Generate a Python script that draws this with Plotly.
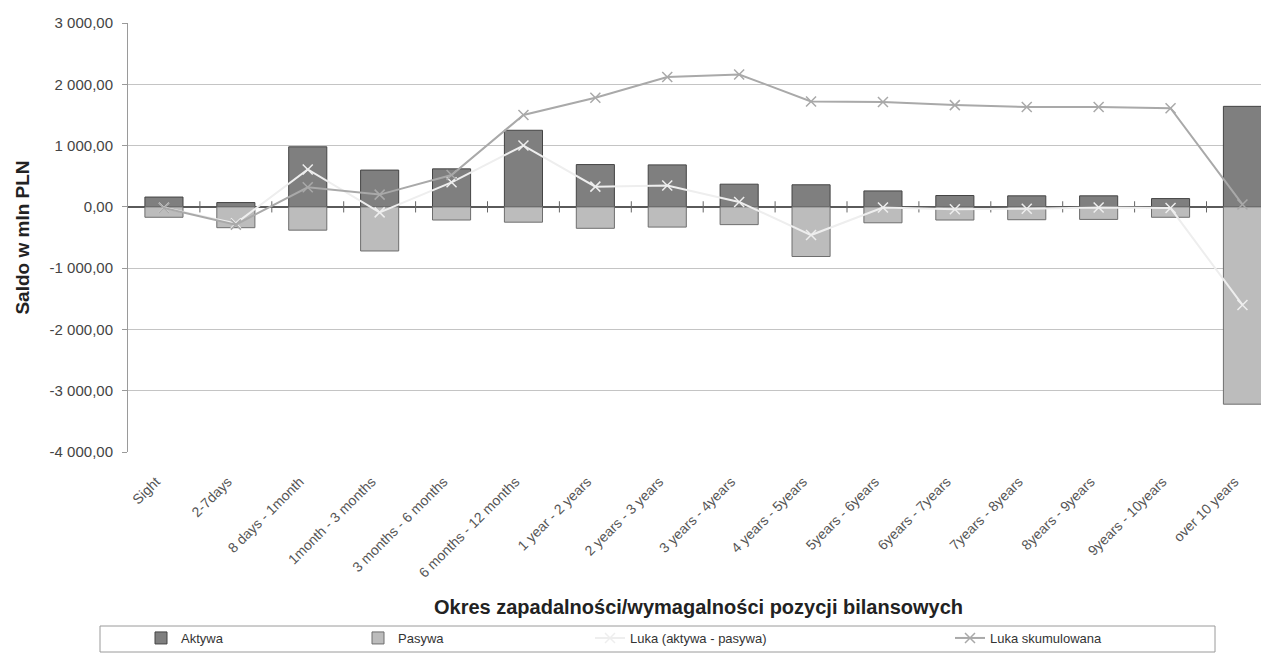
import plotly.graph_objects as go

categories = ["Sight", "2-7days", "8 days - 1month", "1month - 3 months",
              "3 months - 6 months", "6 months - 12 months", "1 year - 2 years",
              "2 years - 3 years", "3 years - 4years", "4 years - 5years",
              "5years - 6years", "6years - 7years", "7years - 8years",
              "8years - 9years", "9years - 10years", "over 10 years"]
aktywa = [160, 70, 980, 600, 620, 1250, 690, 685, 370, 360, 260, 185, 180, 180, 135, 1640]
pasywa = [-170, -340, -380, -720, -215, -250, -350, -330, -290, -810, -260, -215, -210, -205, -170, -3220]
luka = [-15, -270, 610, -90, 400, 1000, 330, 350, 80, -460, -10, -40, -30, -10, -20, -1600]
luka_skum = [-20, -290, 320, 200, 520, 1500, 1780, 2120, 2160, 1720, 1710, 1660, 1630, 1630, 1610, 40]
y_ticks = [-4000, -3000, -2000, -1000, 0, 1000, 2000, 3000]
y_labels = ["-4 000,00", "-3 000,00", "-2 000,00", "-1 000,00", "0,00",
            "1 000,00", "2 000,00", "3 000,00"]

OFF = 8  # page body margin
W, H = 1269 - OFF, 656 - OFF
L, T = 128 - OFF, 23 - OFF
BOTTOM = 452 - OFF
B = H - BOTTOM
R = 0
pw, ph = W - L - R, H - T - B
idx = list(range(len(categories)))
FONT = "Liberation Sans, Arial, sans-serif"


def px_x(p):
    return (p - OFF - L) / pw


def px_y(p):
    return (BOTTOM - (p - OFF)) / ph


fig = go.Figure()
fig.add_trace(go.Bar(x=idx, y=aktywa, name="Aktywa", width=0.53,
                     marker=dict(color="#7f7f7f", line=dict(color="#444444", width=1)),
                     legend="legend"))
fig.add_trace(go.Bar(x=idx, y=pasywa, name="Pasywa", width=0.53,
                     marker=dict(color="#bcbcbc", line=dict(color="#6e6e6e", width=1)),
                     legend="legend2"))
# category-axis tick marks on the zero line (between categories)
fig.add_trace(go.Scatter(x=[i + 0.5 for i in idx[:-1]], y=[0] * (len(idx) - 1),
                         mode="markers", showlegend=False, hoverinfo="skip",
                         marker=dict(symbol="line-ns-open", size=8, color="#666666",
                                     line=dict(color="#666666", width=1))))
fig.add_trace(go.Scatter(x=idx, y=luka, name="Luka (aktywa - pasywa)", mode="lines+markers",
                         line=dict(color="#eeeeee", width=2),
                         marker=dict(symbol="x-thin-open", size=10, color="#eeeeee",
                                     line=dict(color="#eeeeee", width=1.5)),
                         legend="legend3"))
fig.add_trace(go.Scatter(x=idx, y=luka_skum, name="Luka skumulowana", mode="lines+markers",
                         line=dict(color="#a9a9a9", width=2),
                         marker=dict(symbol="x-thin-open", size=10, color="#a9a9a9",
                                     line=dict(color="#a9a9a9", width=1.5)),
                         legend="legend4"))

leg_common = dict(orientation="h", yanchor="middle", y=px_y(638), xanchor="left",
                  font=dict(family=FONT, size=13, color="#333333"),
                  bgcolor="rgba(0,0,0,0)", borderwidth=0)

fig.update_layout(
    width=W, height=H,
    margin=dict(l=L, r=R, t=T, b=B, autoexpand=False),
    paper_bgcolor="white", plot_bgcolor="white",
    barmode="relative",
    font=dict(family=FONT, color="#333333"),
    legend=dict(x=px_x(141), **leg_common),
    legend2=dict(x=px_x(358), **leg_common),
    legend3=dict(x=px_x(590), **leg_common),
    legend4=dict(x=px_x(950), **leg_common),
    xaxis=dict(range=[-0.5, -0.5 + pw / 71.9], tickvals=idx, ticktext=categories,
               tickangle=-45, tickfont=dict(family=FONT, size=14, color="#555555"),
               showgrid=False, zeroline=False, showline=False,
               ticks="outside", ticklen=15, tickcolor="rgba(0,0,0,0)",
               ticklabelshift=-8,
               title=dict(text="<b>Okres zapadalności/wymagalności pozycji bilansowych</b>",
                          font=dict(family=FONT, size=20, color="#222222"), standoff=20)),
    yaxis=dict(range=[-4000, 3000], tickvals=y_ticks, ticktext=y_labels,
               tickfont=dict(family=FONT, size=15, color="#444444"),
               showgrid=True, gridcolor="#c4c4c4", gridwidth=1,
               zeroline=True, zerolinecolor="#5a5a5a", zerolinewidth=1.5,
               showline=True, linecolor="#9a9a9a", linewidth=1,
               ticks="outside", ticklen=5, tickcolor="#9a9a9a", ticklabelstandoff=6,
               title=dict(text="<b>Saldo w mln PLN</b>",
                          font=dict(family=FONT, size=19, color="#222222"), standoff=14)),
    shapes=[dict(type="rect", xref="paper", yref="paper",
                 x0=px_x(100), x1=px_x(1215), y0=px_y(626), y1=px_y(652),
                 line=dict(color="#9a9a9a", width=1), fillcolor="rgba(0,0,0,0)")],
)

fig.write_html("out.html")
